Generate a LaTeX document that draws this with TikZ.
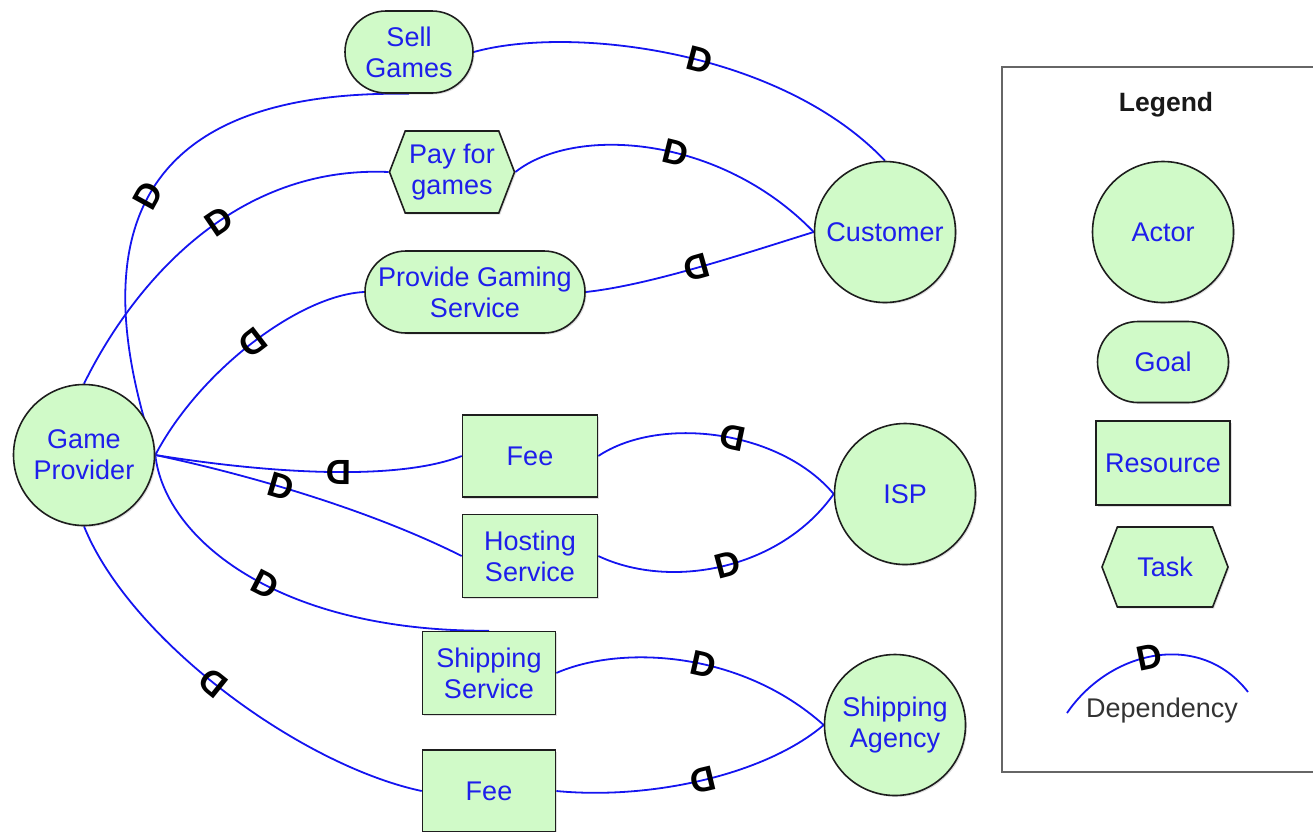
\documentclass[tikz,border=0pt]{standalone}
\usepackage{fontspec}
\setmainfont{Liberation Sans}
\usetikzlibrary{shapes.misc,shapes.symbols,shadows}
\definecolor{nodefill}{RGB}{208,250,200}
\definecolor{txtblue}{RGB}{30,30,235}
\definecolor{lineblue}{RGB}{20,20,240}
\definecolor{edgecol}{RGB}{30,30,30}
\pgfdeclarelayer{bg}
\pgfsetlayers{bg,main}
\begin{document}
\begin{tikzpicture}[x=1pt,y=-1pt,
  base/.style={draw=edgecol, line width=1.6pt, fill=nodefill, text=txtblue,
    font=\fontsize{27}{31}\selectfont, align=center, inner sep=0pt,
    drop shadow={shadow xshift=1.5pt,shadow yshift=-1.5pt,opacity=0.25}},
  actor/.style={base, circle, minimum size=141pt},
  goal/.style={base, rounded rectangle, minimum height=82pt},
  resource/.style={base, rectangle, minimum height=82pt},
  task/.style={base, signal, signal to=west and east, signal pointer angle=138, minimum height=82pt},
  dep/.style={draw=lineblue, line width=1.8pt},
  dm/.style={font=\fontsize{35}{35}\bfseries\selectfont, text=black, inner sep=0pt, sloped, allow upside down},
]
\useasboundingbox (0,0) rectangle (1313,831);

% main nodes
\node[goal, minimum width=128pt] (sell) at (409,52) {Sell\\Games};
\node[task, minimum width=125pt] (pay) at (452,172) {Pay for\\games};
\node[goal, minimum width=220pt] (pgs) at (475,292) {Provide Gaming\\Service};
\node[actor] (cust) at (885,232) {Customer};
\node[actor] (gp) at (84,455) {Game\\Provider};
\node[resource, minimum width=135pt] (fee1) at (530,456) {Fee};
\node[resource, minimum width=135pt, minimum height=83pt] (host) at (530,556) {Hosting\\Service};
\node[actor] (isp) at (905,494) {ISP};
\node[resource, minimum width=133pt, minimum height=83pt] (ship) at (489,673) {Shipping\\Service};
\node[resource, minimum width=133pt] (fee2) at (489,791) {Fee};
\node[actor] (sa) at (895,725) {Shipping\\Agency};

% connectors
\begin{pgfonlayer}{bg}
\draw[dep] (gp.east) .. controls (70,200) and (170,90) .. (sell.south) node[dm,pos=0.45]{D};
\draw[dep] (sell.east) .. controls (570,25) and (780,50) .. (cust.north) node[dm,pos=0.55]{D};
\draw[dep] (gp.north) .. controls (130,290) and (230,165) .. (pay.west) node[dm,pos=0.58]{D};
\draw[dep] (pay.east) .. controls (575,125) and (720,135) .. (cust.west) node[dm,pos=0.57]{D};
\draw[dep] (cust.west) .. controls (740,255) and (650,285) .. (pgs.east) node[dm,pos=0.5]{D};
\draw[dep] (pgs.west) .. controls (300,295) and (200,370) .. (gp.east) node[dm,pos=0.5]{D};
\draw[dep] (isp.west) .. controls (780,430) and (660,415) .. (fee1.east) node[dm,pos=0.45]{D};
\draw[dep] (fee1.west) .. controls (400,480) and (280,475) .. (gp.east) node[dm,pos=0.48]{D};
\draw[dep] (gp.east) .. controls (250,475) and (370,510) .. (host.west) node[dm,pos=0.41]{D};
\draw[dep] (host.east) .. controls (670,590) and (780,570) .. (isp.west) node[dm,pos=0.52]{D};
\draw[dep] (gp.east) .. controls (165,540) and (280,632) .. (ship.north) node[dm,pos=0.55]{D};
\draw[dep] (ship.east) .. controls (620,645) and (740,650) .. (sa.west) node[dm,pos=0.57]{D};
\draw[dep] (sa.west) .. controls (765,775) and (650,800) .. (fee2.east) node[dm,pos=0.5]{D};
\draw[dep] (fee2.west) .. controls (300,765) and (130,640) .. (gp.south) node[dm,pos=0.53]{D};
\end{pgfonlayer}

% legend
\draw[draw=black!60, line width=1.5pt] (1002,67) rectangle (1318,772);
\node[font=\fontsize{26.5}{27}\bfseries\selectfont, text=black!90] (ltitle) at (1166,105) {Legend};
\node[actor] (lactor) at (1163,232) {Actor};
\node[goal, minimum width=131pt, minimum height=81pt] (lgoal) at (1163,362) {Goal};
\node[resource, minimum width=134pt, minimum height=84pt] (lres) at (1163,463) {Resource};
\node[task, minimum width=126pt, minimum height=80pt] (ltask) at (1165,567) {Task};
\coordinate (la) at (1067,713);
\coordinate (lb) at (1248,692);
\draw[dep] (la) .. controls (1110,650) and (1200,630) .. (lb) node[dm,pos=0.47]{D};
\node[text=black!80, font=\fontsize{27}{31}\selectfont] (ldep) at (1162,711) {Dependency};
\end{tikzpicture}
\end{document}
